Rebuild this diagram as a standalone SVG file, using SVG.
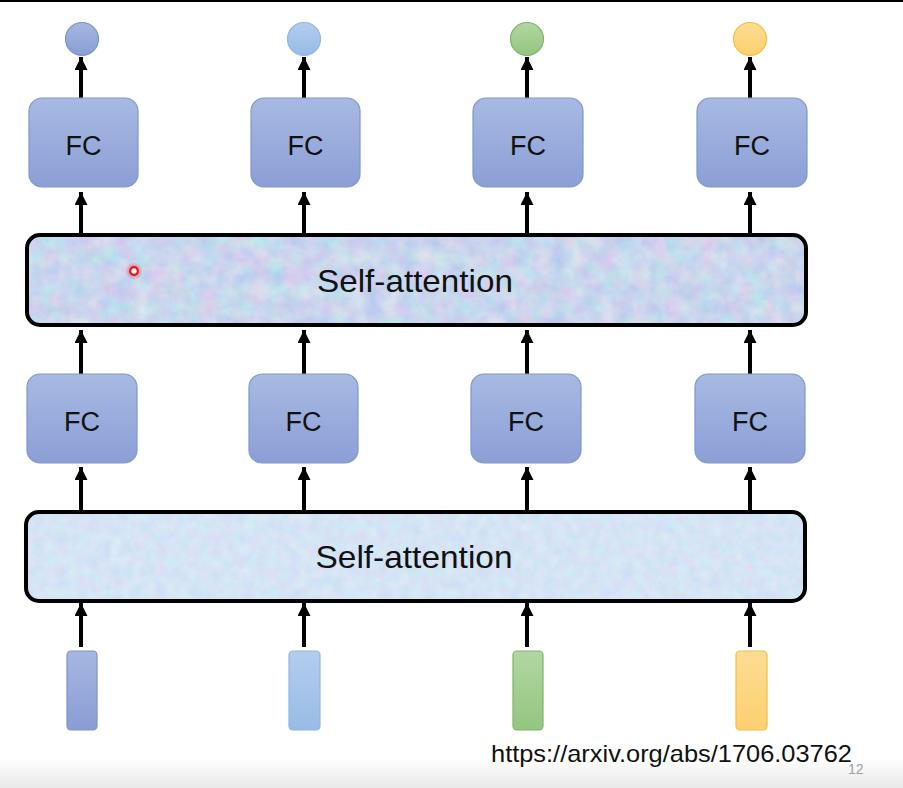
<svg xmlns="http://www.w3.org/2000/svg" width="903" height="788" viewBox="0 0 903 788">
<defs>
<style>
.fc{fill:url(#gFC);stroke:#7f97cf;stroke-width:1.2}
.fct{font-family:"Liberation Sans",Arial,sans-serif;font-size:27px;fill:#111;text-anchor:middle}
.sat{font-family:"Liberation Sans",Arial,sans-serif;font-size:32px;fill:#111;text-anchor:middle}
.sa{stroke:#000;stroke-width:4}
.arr{stroke:#000;stroke-width:4;fill:none;marker-end:url(#ah)}
</style>
<linearGradient id="gFC" x1="0" y1="0" x2="0" y2="1"><stop offset="0" stop-color="#a8b9e2"/><stop offset="1" stop-color="#8b9fd6"/></linearGradient>
<linearGradient id="gB1" x1="0" y1="0" x2="0" y2="1"><stop offset="0" stop-color="#a7b7e1"/><stop offset="1" stop-color="#899dd5"/></linearGradient>
<linearGradient id="gB2" x1="0" y1="0" x2="0" y2="1"><stop offset="0" stop-color="#b3cdee"/><stop offset="1" stop-color="#97bce6"/></linearGradient>
<linearGradient id="gG" x1="0" y1="0" x2="0" y2="1"><stop offset="0" stop-color="#b2d6a3"/><stop offset="1" stop-color="#93c67e"/></linearGradient>
<linearGradient id="gY" x1="0" y1="0" x2="0" y2="1"><stop offset="0" stop-color="#fddc94"/><stop offset="1" stop-color="#fdd070"/></linearGradient>
<linearGradient id="gBot" x1="0" y1="0" x2="0" y2="1"><stop offset="0" stop-color="#ffffff"/><stop offset="1" stop-color="#e8e8e8"/></linearGradient>
<filter id="tex1" x="0" y="0" width="1" height="1" color-interpolation-filters="sRGB">
<feTurbulence type="fractalNoise" baseFrequency="0.06" numOctaves="3" seed="3" result="n"/>
<feColorMatrix in="n" type="matrix" values="0.24 0 0 0 0.67  0 0.18 0 0 0.75  0 0 0.06 0 0.9  0 0 0 0 1" result="c"/>
<feComposite in="c" in2="SourceGraphic" operator="in"/>
</filter>
<filter id="tex2" x="0" y="0" width="1" height="1" color-interpolation-filters="sRGB">
<feTurbulence type="fractalNoise" baseFrequency="0.09" numOctaves="3" seed="7" result="n"/>
<feColorMatrix in="n" type="matrix" values="0.12 0 0 0 0.775  0 0.09 0 0 0.85  0 0 0.04 0 0.94  0 0 0 0 1" result="c"/>
<feComposite in="c" in2="SourceGraphic" operator="in"/>
</filter>
<radialGradient id="glow"><stop offset="0.4" stop-color="#ff3030" stop-opacity="0.5"/><stop offset="1" stop-color="#ff3030" stop-opacity="0"/></radialGradient>
<marker id="ah" viewBox="0 0 14 13" refX="13" refY="6.5" markerWidth="14" markerHeight="13" markerUnits="userSpaceOnUse" orient="auto">
<path d="M0,0 L13,6.5 L0,13 Z" fill="#000"/>
</marker>
</defs>
<rect x="0" y="0" width="903" height="788" fill="#fff"/>
<rect x="0" y="758" width="903" height="30" fill="url(#gBot)"/>
<rect x="0" y="0" width="903" height="2" fill="#000"/>

<g id="connectors">
<line class="arr" x1="81" y1="98" x2="81" y2="57"/>
<line class="arr" x1="304" y1="98" x2="304" y2="57"/>
<line class="arr" x1="527" y1="98" x2="527" y2="57"/>
<line class="arr" x1="750" y1="98" x2="750" y2="57"/>
<line class="arr" x1="81" y1="235" x2="81" y2="192"/>
<line class="arr" x1="304" y1="235" x2="304" y2="192"/>
<line class="arr" x1="527" y1="235" x2="527" y2="192"/>
<line class="arr" x1="750" y1="235" x2="750" y2="192"/>
<line class="arr" x1="81" y1="374" x2="81" y2="330"/>
<line class="arr" x1="304" y1="374" x2="304" y2="330"/>
<line class="arr" x1="527" y1="374" x2="527" y2="330"/>
<line class="arr" x1="750" y1="374" x2="750" y2="330"/>
<line class="arr" x1="81" y1="511" x2="81" y2="467"/>
<line class="arr" x1="304" y1="511" x2="304" y2="467"/>
<line class="arr" x1="527" y1="511" x2="527" y2="467"/>
<line class="arr" x1="750" y1="511" x2="750" y2="467"/>
<line class="arr" x1="81" y1="647" x2="81" y2="603"/>
<line class="arr" x1="304" y1="647" x2="304" y2="603"/>
<line class="arr" x1="527" y1="647" x2="527" y2="603"/>
<line class="arr" x1="750" y1="647" x2="750" y2="603"/>
</g>

<g id="out1"><circle cx="82" cy="39" r="16.5" fill="url(#gB1)" stroke="#7b93cc" stroke-width="1.2"/></g>
<g id="out2"><circle cx="304" cy="39" r="16.5" fill="url(#gB2)" stroke="#8fb6e2" stroke-width="1.2"/></g>
<g id="out3"><circle cx="527" cy="39" r="16.5" fill="url(#gG)" stroke="#7fb469" stroke-width="1.2"/></g>
<g id="out4"><circle cx="750" cy="39" r="16.5" fill="url(#gY)" stroke="#f2bf3c" stroke-width="1.2"/></g>

<g id="fc1a"><rect class="fc" x="29" y="98" width="109" height="89" rx="13"/><text class="fct" x="83.5" y="155">FC</text></g>
<g id="fc2a"><rect class="fc" x="251" y="98" width="109" height="89" rx="13"/><text class="fct" x="305.5" y="155">FC</text></g>
<g id="fc3a"><rect class="fc" x="473" y="98" width="110" height="89" rx="13"/><text class="fct" x="528" y="155">FC</text></g>
<g id="fc4a"><rect class="fc" x="697" y="98" width="110" height="89" rx="13"/><text class="fct" x="752" y="155">FC</text></g>

<g id="sa2">
<rect x="27" y="235" width="779" height="90" rx="13" fill="#c9d7f0"/>
<rect x="27" y="235" width="779" height="90" rx="13" fill="#fff" filter="url(#tex1)"/>
<rect class="sa" x="27" y="235" width="779" height="90" rx="13" fill="none"/>
<text class="sat" x="415" y="292" textLength="196" lengthAdjust="spacingAndGlyphs">Self-attention</text>
</g>

<g id="fc1b"><rect class="fc" x="27" y="374" width="110" height="89" rx="13"/><text class="fct" x="82" y="431">FC</text></g>
<g id="fc2b"><rect class="fc" x="249" y="374" width="109" height="89" rx="13"/><text class="fct" x="303.5" y="431">FC</text></g>
<g id="fc3b"><rect class="fc" x="471" y="374" width="110" height="89" rx="13"/><text class="fct" x="526" y="431">FC</text></g>
<g id="fc4b"><rect class="fc" x="695" y="374" width="110" height="89" rx="13"/><text class="fct" x="750" y="431">FC</text></g>

<g id="sa1">
<rect x="26" y="512" width="779" height="89" rx="13" fill="#d4e3f4"/>
<rect x="26" y="512" width="779" height="89" rx="13" fill="#fff" filter="url(#tex2)"/>
<rect class="sa" x="26" y="512" width="779" height="89" rx="13" fill="none"/>
<text class="sat" x="414" y="568" textLength="197" lengthAdjust="spacingAndGlyphs">Self-attention</text>
</g>

<g id="in1"><rect x="67" y="651" width="30" height="79" rx="4" fill="url(#gB1)" stroke="#7b93cc" stroke-width="1.2"/></g>
<g id="in2"><rect x="289" y="651" width="31" height="79" rx="4" fill="url(#gB2)" stroke="#8fb6e2" stroke-width="1.2"/></g>
<g id="in3"><rect x="513" y="651" width="30" height="79" rx="4" fill="url(#gG)" stroke="#7fb469" stroke-width="1.2"/></g>
<g id="in4"><rect x="736" y="651" width="31" height="79" rx="4" fill="url(#gY)" stroke="#f2bf3c" stroke-width="1.2"/></g>

<g id="pointer">
<circle cx="134" cy="271" r="9" fill="url(#glow)"/>
<circle cx="134" cy="271" r="3.8" fill="#fff" stroke="#e8101a" stroke-width="2.2"/>
</g>

<text x="491" y="762" font-family="&quot;Liberation Sans&quot;,Arial,sans-serif" font-size="24" fill="#111" textLength="361" lengthAdjust="spacingAndGlyphs">https://arxiv.org/abs/1706.03762</text>
<text x="848" y="774" font-family="&quot;Liberation Sans&quot;,Arial,sans-serif" font-size="14" fill="#a0a0a0">12</text>
</svg>
